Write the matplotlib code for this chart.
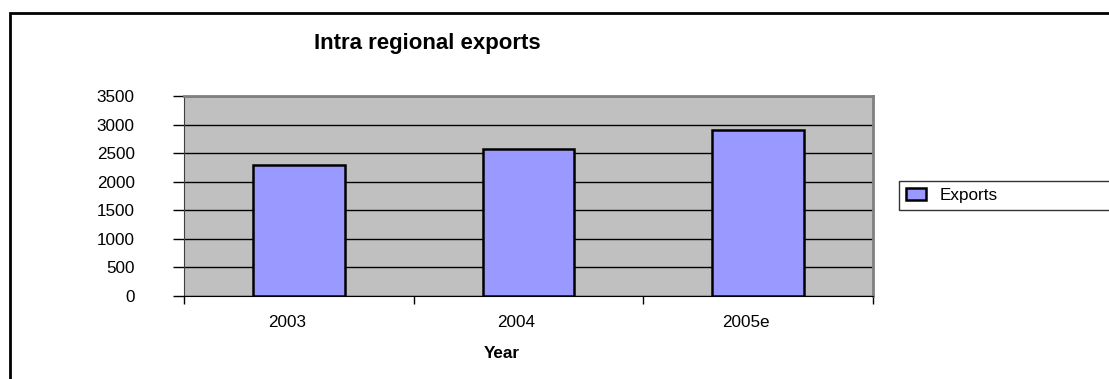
import numpy as np
import matplotlib
matplotlib.use("Agg")
import matplotlib.pyplot as plt
import matplotlib.transforms as mtransforms
from matplotlib.patches import Rectangle

plt.rcParams['font.family'] = ['Liberation Sans', 'DejaVu Sans']

# Donnees
years = ["2003", "2004", "2005e"]
exports = [2290, 2570, 2900]
yticks = [0, 500, 1000, 1500, 2000, 2500, 3000, 3500]

fig = plt.figure(figsize=(11.09, 3.79), dpi=100)
ax = fig.add_axes([184 / 1109, 1 - 296 / 379, 689 / 1109, 200 / 379])

ax.set_facecolor("#C0C0C0")
ax.set_axisbelow(True)
ax.yaxis.grid(True, color="black", linewidth=1)

x = np.arange(len(years))
bars = ax.bar(x, exports, width=0.4, color="#9999FF", edgecolor="black",
              linewidth=1.8, label="Exports", zorder=3)

ax.set_xlim(-0.5, len(years) - 0.5)
ax.set_ylim(0, 3500)
ax.set_yticks(yticks)
ax.set_yticklabels([str(v) for v in yticks], fontsize=12.3)

# graduations aux limites des categories, libelles au centre
ax.set_xticks(np.arange(len(years) + 1) - 0.5)
ax.set_xticklabels([])
ax.set_xticks(x, minor=True)
ax.set_xticklabels(years, minor=True, fontsize=12.3)
ax.tick_params(axis="x", which="major", length=6, width=1, direction="out")
ax.tick_params(axis="x", which="minor", length=0, pad=14)
ax.tick_params(axis="y", length=8, width=1, direction="out", pad=27.4)

# decalage des libelles vers la gauche (style tableur)
shift = mtransforms.ScaledTranslation(-12 / 100, 0, fig.dpi_scale_trans)
for lab in ax.get_xticklabels(minor=True):
    lab.set_transform(lab.get_transform() + shift)

for side in ["top", "right"]:
    ax.spines[side].set_color("#808080")
    ax.spines[side].set_linewidth(2)
ax.spines["left"].set_color("#404040")
ax.spines["bottom"].set_color("black")

ax.set_xlabel("Year", fontsize=12.3, fontweight="bold")
ax.xaxis.set_label_coords((502 - 184) / 689, -(354 - 296) / 200)
ax.xaxis.label.set_va("center")

fig.text(427 / 1109, 1 - 43 / 379, "Intra regional exports", fontsize=16,
         fontweight="bold", ha="center", va="center")

leg = ax.legend(loc="lower left", mode="expand", bbox_to_anchor=(899 / 1109, 1 - 210 / 379, 0.3, 29 / 379),
                bbox_transform=fig.transFigure, frameon=True, fancybox=False,
                fontsize=12.3, handlelength=1.2, handleheight=0.7, borderaxespad=0)
leg.get_frame().set_edgecolor("black")
leg.get_frame().set_linewidth(1)

# cadre exterieur
top = 1 - 13 / 379
fig.patches.append(Rectangle((10 / 1109, -0.2), 1.2, top + 0.2, transform=fig.transFigure,
                             fill=False, edgecolor="black", linewidth=2))

fig.savefig("out.png", dpi=100)
